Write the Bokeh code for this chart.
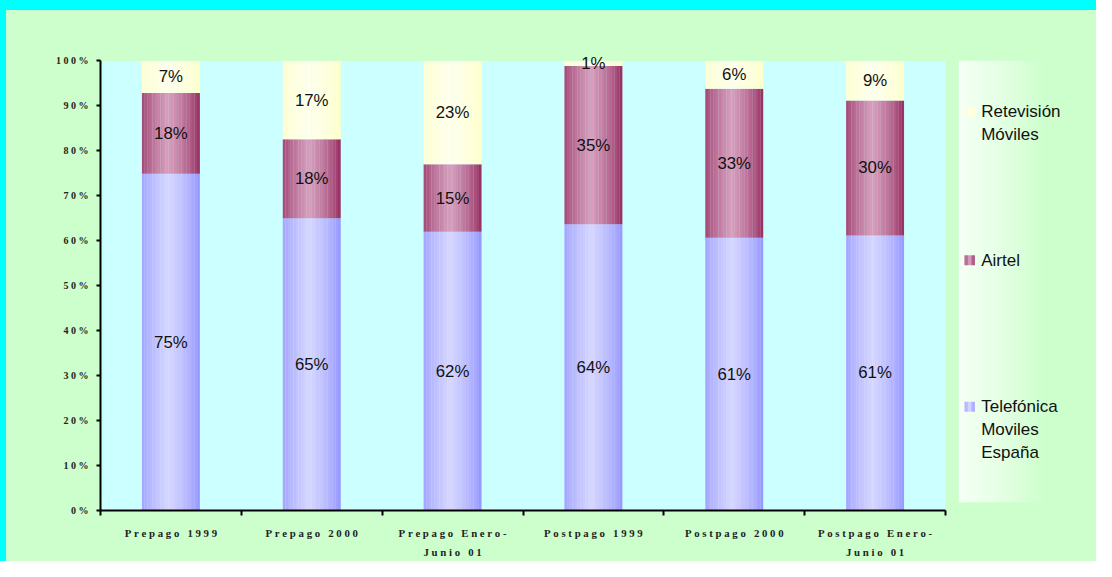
import numpy as np
from bokeh.plotting import figure
from bokeh.models import Range1d, FixedTicker, ColumnDataSource, Div
from bokeh.layouts import row, column
from bokeh.embed import file_html
from bokeh.resources import INLINE
from bokeh.core.properties import value

# ---------------- data ----------------
categories = ["Prepago 1999", "Prepago 2000", "Prepago Enero-\nJunio 01",
              "Postpago 1999", "Postpago 2000", "Postpago Enero-\nJunio 01"]
series_names = ["Telefónica Moviles España", "Airtel", "Retevisión Móviles"]
telefonica = [74.9, 65.0, 62.0, 63.7, 60.7, 61.2]
airtel = [18.0, 17.6, 15.0, 35.2, 33.1, 30.0]
retevision = [7.1, 17.4, 23.0, 1.1, 6.2, 8.8]
y_ticks = [0, 10, 20, 30, 40, 50, 60, 70, 80, 90, 100]
y_tick_labels = ["0%", "10%", "20%", "30%", "40%", "50%", "60%", "70%", "80%", "90%", "100%"]
legend_order = ["Retevisión Móviles", "Airtel", "Telefónica Moviles España"]
legend_lines = [["Retevisión", "Móviles"], ["Airtel"], ["Telefónica", "Moviles", "España"]]

# ---------------- styles / layout ----------------
CYAN = "#00FFFF"
GREEN = "#CCFFCC"
PLOT_BG = "#CCFFFF"
edge_colors = {"Telefónica Moviles España": (153, 153, 255),
               "Airtel": (153, 51, 102),
               "Retevisión Móviles": (255, 255, 204)}
center_colors = {"Telefónica Moviles España": (214, 214, 255),
                 "Airtel": (214, 160, 190),
                 "Retevisión Móviles": (255, 255, 236)}
series_values = {"Telefónica Moviles España": telefonica,
                 "Airtel": airtel,
                 "Retevisión Móviles": retevision}
BAR_W = 0.41
N_STRIPES = 22

TOTAL_W, TOTAL_H = 1096, 561
S_X, S_Y = TOTAL_W / 1112, TOTAL_H / 577
TOP_PAD, LEFT_PAD = 10, 6
MAIN_W = 952
ROW_H = TOTAL_H - TOP_PAD
LEG_W = TOTAL_W - LEFT_PAD - MAIN_W
MB_TOP, MB_BOT = 37, 47


def spaced(s):
    return "\n".join("\u00a0".join(ch if ch != " " else "\u00a0" for ch in line)
                     for line in s.split("\n"))


def mix(c0, c1, f):
    return "#%02x%02x%02x" % tuple(int(round(a + (b - a) * f)) for a, b in zip(c0, c1))


def profile(t):
    return float(np.clip(1 - abs(t - 0.46) / 0.5, 0, 1) ** 0.7)


# ---------------- main figure ----------------
ncat = len(categories)
p = figure(width=MAIN_W, height=ROW_H, x_range=Range1d(0, ncat), y_range=Range1d(0, 103),
           output_backend="svg", toolbar_location=None,
           min_border_left=94, min_border_right=13, min_border_top=MB_TOP,
           min_border_bottom=MB_BOT,
           background_fill_color=GREEN, border_fill_color=GREEN, outline_line_color=None)
p.grid.visible = False

# plot area background
p.quad(left=0, right=ncat, bottom=0, top=y_ticks[-1], fill_color=PLOT_BG, line_color=None)

# striped (gradient) stacked bars
xs, bots, tops, cols = [], [], [], []
lx, ly, lt = [], [], []
sw = BAR_W / N_STRIPES
for i in range(ncat):
    base = 0.0
    for name in series_names:
        v = series_values[name][i]
        for k in range(N_STRIPES):
            t = (k + 0.5) / N_STRIPES
            xs.append(i + 0.5 - BAR_W / 2 + (k + 0.5) * sw)
            bots.append(base)
            tops.append(base + v)
            cols.append(mix(edge_colors[name], center_colors[name], profile(t)))
        lx.append(i + 0.5)
        ly.append(base + v / 2)
        lt.append("%d%%" % round(v))
        base += v

src = ColumnDataSource(dict(x=xs, bottom=bots, top=tops, color=cols))
p.vbar(x="x", bottom="bottom", top="top", width=sw * 1.08, fill_color="color",
       line_color=None, source=src)

lsrc = ColumnDataSource(dict(x=lx, y=ly, text=lt))
p.text(x="x", y="y", text="text", source=lsrc, text_align="center", text_baseline="middle",
       text_font=value("Liberation Sans"), text_font_size="16.8px", text_color="#111111")

# y axis
ya = p.yaxis[0]
ya.ticker = FixedTicker(ticks=y_ticks)
ya.major_label_overrides = {t: spaced(l) for t, l in zip(y_ticks, y_tick_labels)}
ya.bounds = (y_ticks[0], y_ticks[-1])
ya.axis_line_width = 2
ya.axis_line_color = "black"
ya.major_tick_line_width = 2
ya.major_tick_line_color = "black"
ya.major_tick_out = 4
ya.major_tick_in = 0
ya.minor_tick_line_color = None
ya.major_label_standoff = 8
ya.major_label_text_font = "Liberation Serif"
ya.major_label_text_font_style = "bold"
ya.major_label_text_font_size = "10px"
ya.major_label_text_color = "#222222"

# x axis
xa = p.xaxis[0]
xa.ticker = FixedTicker(ticks=[i + 0.5 for i in range(ncat)],
                        minor_ticks=list(range(ncat + 1)))
xa.major_label_overrides = {i + 0.5: spaced(c) for i, c in enumerate(categories)}
xa.axis_line_width = 2
xa.axis_line_color = "black"
xa.major_tick_line_color = None
xa.major_tick_out = 0
xa.major_tick_in = 0
xa.minor_tick_line_color = "black"
xa.minor_tick_line_width = 2
xa.minor_tick_out = 5
xa.minor_tick_in = 0
xa.major_label_standoff = 11
xa.major_label_text_font = "Liberation Serif"
xa.major_label_text_font_style = "bold"
xa.major_label_text_font_size = "10.8px"
xa.major_label_text_line_height = 1.65
xa.major_label_text_color = "#222222"

# ---------------- legend figure (ranges in reference-pixel units) ----------------
frame_top_ref = (TOP_PAD + MB_TOP) / S_Y
frame_bot_ref = (TOP_PAD + ROW_H - MB_BOT) / S_Y
lg = figure(width=LEG_W, height=ROW_H,
            x_range=Range1d((LEFT_PAD + MAIN_W) / S_X, TOTAL_W / S_X),
            y_range=Range1d(frame_bot_ref, frame_top_ref),
            output_backend="svg", toolbar_location=None,
            x_axis_location=None, y_axis_location=None,
            min_border_left=0, min_border_right=0, min_border_top=MB_TOP,
            min_border_bottom=MB_BOT,
            background_fill_color=GREEN, border_fill_color=GREEN, outline_line_color=None)
lg.grid.visible = False

# gradient legend box
box_left, box_top, box_bot, fade_end = 972, 62, 520, 1060
gl, gr, gc = [], [], []
for x0 in range(box_left, 1112, 2):
    f = min(1.0, (x0 - box_left) / (fade_end - box_left))
    gl.append(x0)
    gr.append(x0 + 2.3)
    gc.append(mix((250, 255, 250), (204, 255, 204), f))
lg.quad(left=gl, right=gr, bottom=box_bot, top=box_top, fill_color=gc, line_color=None)

item_centers = [115, 269, 421]
line_pitch = 24
sq = 10.5
sx0 = 978
for name, lines, yc in zip(legend_order, legend_lines, item_centers):
    n = 3
    ql, qr, qc = [], [], []
    for k in range(n):
        ql.append(sx0 + k * sq / n)
        qr.append(sx0 + (k + 1) * sq / n + 0.2)
        qc.append(mix(edge_colors[name], center_colors[name], profile((k + 0.5) / n)))
    lg.quad(left=ql, right=qr, bottom=yc + sq / 2, top=yc - sq / 2, fill_color=qc,
            line_color=None)
    lg.text(x=[995] * len(lines), y=[yc + j * line_pitch for j in range(len(lines))],
            text=lines, text_align="left", text_baseline="middle",
            text_font=value("Liberation Sans"), text_font_size="17px", text_color="#111111")

# ---------------- cyan frame strips ----------------
top_strip = Div(text="", width=TOTAL_W, height=TOP_PAD, margin=0,
                styles={"background-color": CYAN})
left_strip = Div(text="", width=LEFT_PAD, height=ROW_H, margin=0,
                 styles={"background-color": CYAN})

body = row(left_strip, p, lg, spacing=0, styles={"background-color": GREEN})
layout = column(top_strip, body, spacing=0, styles={"background-color": GREEN})
open("out.html", "w").write(file_html(layout, INLINE))
